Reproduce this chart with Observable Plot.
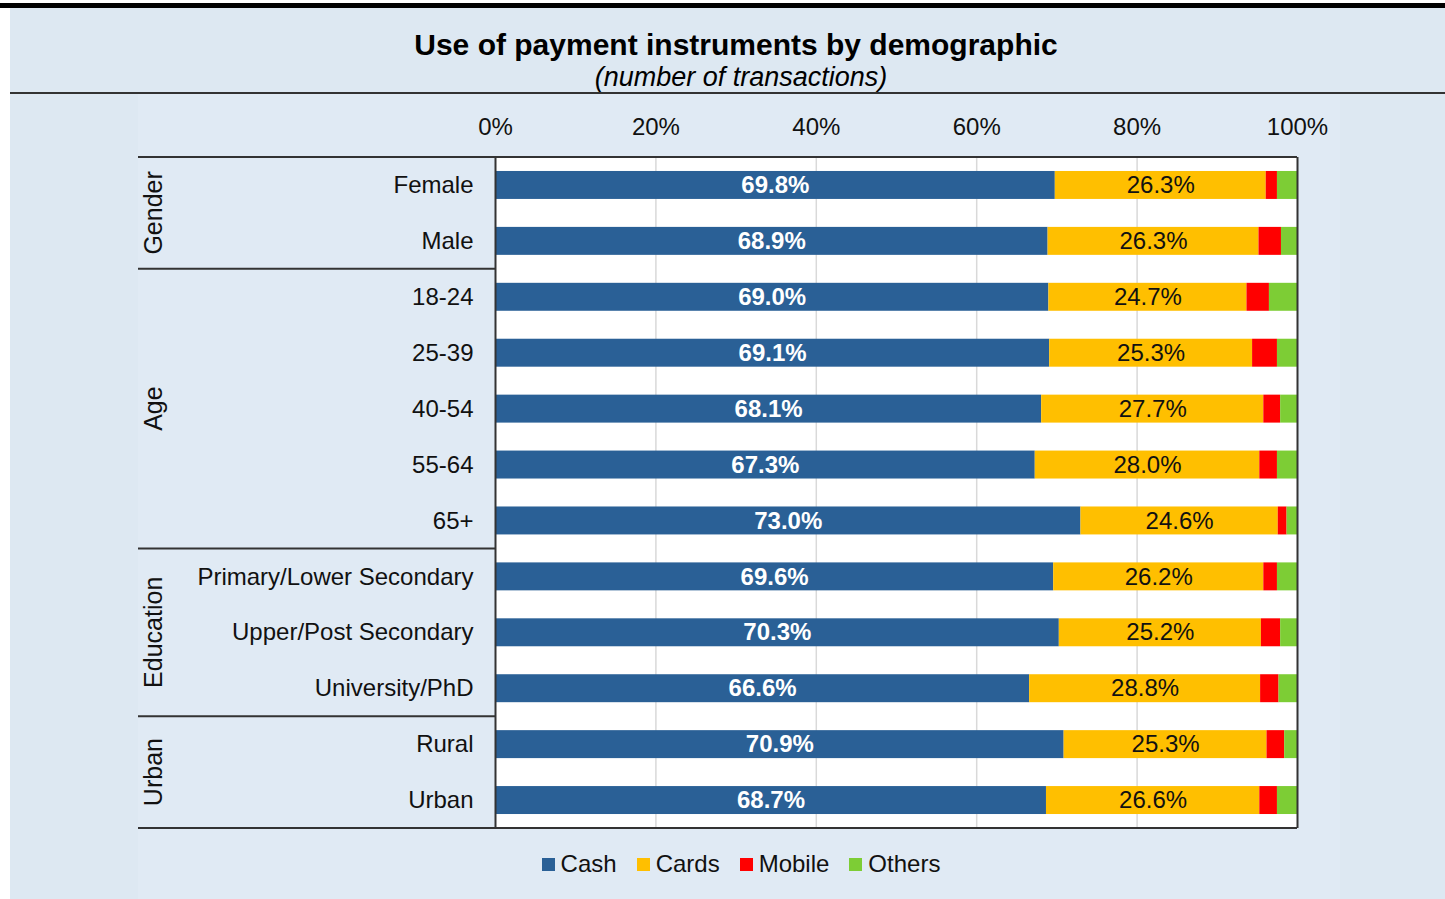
<!DOCTYPE html>
<html>
<head>
<meta charset="utf-8">
<script src="https://cdn.jsdelivr.net/npm/d3@7"></script>
<script src="https://cdn.jsdelivr.net/npm/@observablehq/plot@0.6"></script>
<style>
  html, body { margin: 0; padding: 0; background: #ffffff; }
  body { width: 1445px; height: 899px; position: relative; overflow: hidden;
         font-family: "Liberation Sans", Arial, Helvetica, sans-serif; }
  #topline { position: absolute; left: 0; top: 3px; width: 1445px; height: 5px; background: #000; }
  #panel { position: absolute; left: 10px; top: 8px; width: 1435px; height: 891px; background: #dde8f2; }
  #inner { position: absolute; left: 138px; top: 94px; width: 1202px; height: 805px; background: #e0eaf4; }
  #title { position: absolute; left: 0; width: 1472px; top: 28px; text-align: center;
           font-size: 30px; font-weight: bold; color: #000; }
  #subtitle { position: absolute; left: 0; width: 1482px; top: 62px; text-align: center;
              font-size: 27px; font-style: italic; color: #000; }
  #rule { position: absolute; left: 10px; top: 92px; width: 1435px; height: 2px; background: #333; }
  #chart { position: absolute; left: 0; top: 95px; }
  #legend { position: absolute; left: 0; width: 1482px; top: 850px; text-align: center;
            font-size: 24px; color: #111; }
  #legend span.item { margin: 0 10px; }
  #legend span.sw { display: inline-block; width: 13px; height: 13px; margin-right: 6px; vertical-align: 1px; }
</style>
</head>
<body>
<div id="topline"></div>
<div id="panel"></div>
<div id="inner"></div>
<div id="title">Use of payment instruments by demographic</div>
<div id="subtitle">(number of transactions)</div>
<div id="rule"></div>
<div id="chart"></div>
<div id="legend"></div>
<script>
// ---- data ----
const categories = ["Female","Male","18-24","25-39","40-54","55-64","65+",
  "Primary/Lower Secondary","Upper/Post Secondary","University/PhD","Rural","Urban"];
const groups = ["Gender","Age","Education","Urban"];
const groupOf = ["Gender","Gender","Age","Age","Age","Age","Age",
  "Education","Education","Education","Urban","Urban"];
const series = ["Cash","Cards","Mobile","Others"];
const colors = ["#2a6096","#ffbf00","#ff0000","#7dcd35"];
const cash   = [69.8, 68.9, 69.0, 69.1, 68.1, 67.3, 73.0, 69.6, 70.3, 66.6, 70.9, 68.7];
const cards  = [26.3, 26.3, 24.7, 25.3, 27.7, 28.0, 24.6, 26.2, 25.2, 28.8, 25.3, 26.6];
const mobile = [1.4, 2.8, 2.8, 3.1, 2.1, 2.2, 1.1, 1.7, 2.4, 2.3, 2.2, 2.2];
const others = [2.5, 2.0, 3.5, 2.5, 2.1, 2.5, 1.3, 2.5, 2.1, 2.3, 1.6, 2.5];
const xTicks = [0, 20, 40, 60, 80, 100];

const values = {Cash: cash, Cards: cards, Mobile: mobile, Others: others};
const data = [];
categories.forEach((c, i) => {
  series.forEach(s => data.push({category: c, series: s, value: values[s][i]}));
});

const font = '"Liberation Sans", Arial, Helvetica, sans-serif';
const plot = Plot.plot({
  width: 1445,
  height: 760,
  marginTop: 62,
  marginBottom: 27,
  marginLeft: 495,
  marginRight: 148,
  style: {background: "transparent", fontFamily: font, fontSize: "24px", color: "#111"},
  x: {domain: [0, 100], axis: "top", ticks: xTicks, tickFormat: d => d + "%", tickSize: 0, tickPadding: 23, label: null},
  y: {domain: categories, paddingInner: 0.5, paddingOuter: 0.25, round: false, tickSize: 0, tickPadding: 22, label: null},
  color: {domain: series, range: colors},
  marks: [
    Plot.frame({fill: "white", stroke: null}),
    Plot.gridX(xTicks.slice(1, -1), {stroke: "#d9d9d9", strokeOpacity: 1, strokeWidth: 1.5}),
    Plot.barX(data, Plot.stackX({x: "value", y: "category", fill: "series", order: series})),
    Plot.text(data, Plot.stackX({x: "value", y: "category", z: "series", order: series,
      text: d => d.series === "Cash" ? d.value.toFixed(1) + "%" : "",
      fill: "white", fontWeight: "bold", fontSize: 24})),
    Plot.text(data, Plot.stackX({x: "value", y: "category", z: "series", order: series,
      text: d => d.series === "Cards" ? d.value.toFixed(1) + "%" : "",
      fill: "#111", fontSize: 24})),
    Plot.ruleX([0, 100], {stroke: "#333", strokeWidth: 2})
  ]
});
document.getElementById("chart").appendChild(plot);

// group separators and rotated group labels, from Plot's y scale
const ys = plot.scale("y");
const xs = plot.scale("x");
const bw = ys.bandwidth, step = ys.step;
const svg = d3.select(plot);
const top0 = ys.apply(categories[0]) - (step - bw) / 2;
const xLeft = 138, xRightFrame = xs.apply(100);
const g = svg.append("g");
const bounds = [];
groups.forEach(gr => {
  const idx = groupOf.map((v, i) => v === gr ? i : -1).filter(i => i >= 0);
  const y0 = ys.apply(categories[idx[0]]) - (step - bw) / 2;
  const y1 = ys.apply(categories[idx[idx.length - 1]]) + bw + (step - bw) / 2;
  bounds.push([y0, y1]);
  g.append("text")
    .attr("transform", `translate(${xLeft + 24},${(y0 + y1) / 2}) rotate(-90)`)
    .attr("text-anchor", "middle")
    .attr("font-family", font).attr("font-size", 25).attr("fill", "#111")
    .text(gr);
});
g.append("line").attr("x1", xLeft).attr("x2", xRightFrame).attr("y1", top0).attr("y2", top0)
  .attr("stroke", "#333").attr("stroke-width", 2);
bounds.forEach(([y0, y1], i) => {
  const x2 = i === bounds.length - 1 ? xRightFrame : xs.apply(0);
  g.append("line").attr("x1", xLeft).attr("x2", x2).attr("y1", y1).attr("y2", y1)
    .attr("stroke", "#333").attr("stroke-width", 2);
});

// legend
const leg = document.getElementById("legend");
series.forEach((s, i) => {
  const it = document.createElement("span");
  it.className = "item";
  it.innerHTML = `<span class="sw" style="background:${colors[i]}"></span>${s}`;
  leg.appendChild(it);
});
</script>
</body>
</html>
